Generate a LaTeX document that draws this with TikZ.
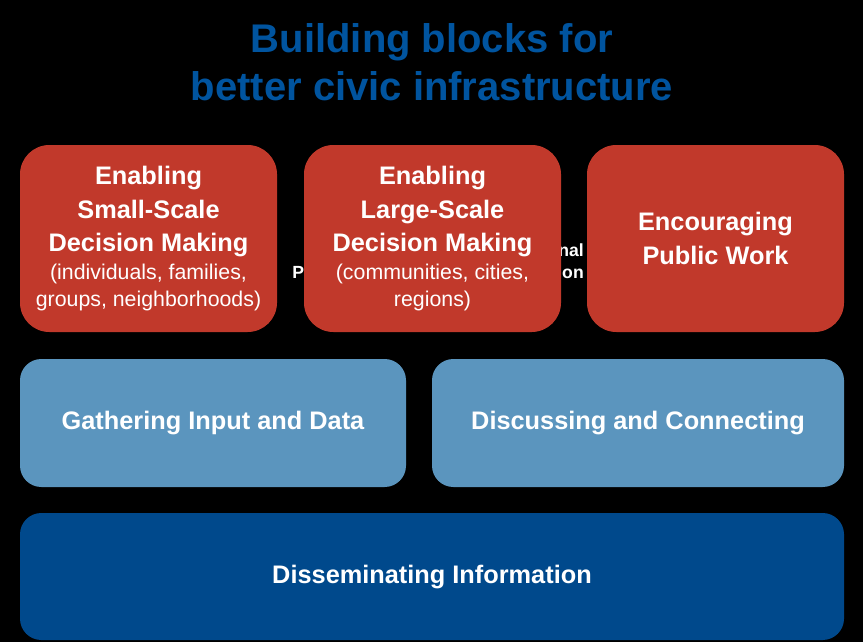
\documentclass[tikz,border=0pt]{standalone}
\usepackage{fontspec}
\setmainfont{Liberation Sans}
\usetikzlibrary{positioning}
\definecolor{titleblue}{HTML}{00549F}
\definecolor{brick}    {HTML}{C1392B}
\definecolor{steel}    {HTML}{5B95BE}
\definecolor{navy}     {HTML}{00498C}
\newcommand{\subline}[1]{{\fontsize{16}{19.5}\selectfont\mdseries #1}}
\tikzset{
  every node/.style={text=white},
  % --- blocks
  blk/.style   = {rounded corners=22pt, inner sep=0pt, align=center,
                  font=\fontsize{19}{25}\selectfont\bfseries},
  act/.style   = {blk, fill=brick, minimum width=192.75pt, minimum height=140.25pt},
  tool/.style  = {blk, fill=steel, rounded corners=16pt, minimum height=96pt},
  found/.style = {blk, fill=navy, rounded corners=16pt, minimum width=618pt,
                  minimum height=95.25pt},
  % --- text
  ttl/.style   = {text=titleblue, align=center, font=\fontsize{30}{36}\selectfont\bfseries},
  behind/.style= {align=right, inner sep=0pt, font=\fontsize{13.2}{16}\selectfont\bfseries},
}
\begin{document}
\begin{tikzpicture}[x=0.75pt,y=-0.75pt]
  \fill[black] (0,0) rectangle (863,642);
  \node[ttl] (title) at (432,62) {Building blocks for\\better civic infrastructure};
  % text that the middle block covers
  \node[behind, anchor=east] (hid) at (584,263)
    {Formal and Traditional\\Participating in Public Deliberation};
  % top row
  \node[act] (small) at (148.5,238.5)
    {Enabling\\Small-Scale\\Decision Making\\[-4pt]
     \subline{(individuals, families,}\\[-5pt]\subline{groups, neighborhoods)}};
  \node[act] (large) at (432.5,238.5)
    {Enabling\\Large-Scale\\Decision Making\\[-4pt]
     \subline{(communities, cities,}\\[-5pt]\subline{regions)}};
  \node[act] (work) at (715.5,238.5) {Encouraging\\Public Work};
  % middle row
  \node[tool, minimum width=289.5pt] (gather) at (213,423) {Gathering Input and Data};
  \node[tool, minimum width=309pt] (discuss) at (638,423) {Discussing and Connecting};
  % base
  \node[found] (dissem) at (432,576.5) {Disseminating Information};
\end{tikzpicture}
\end{document}
